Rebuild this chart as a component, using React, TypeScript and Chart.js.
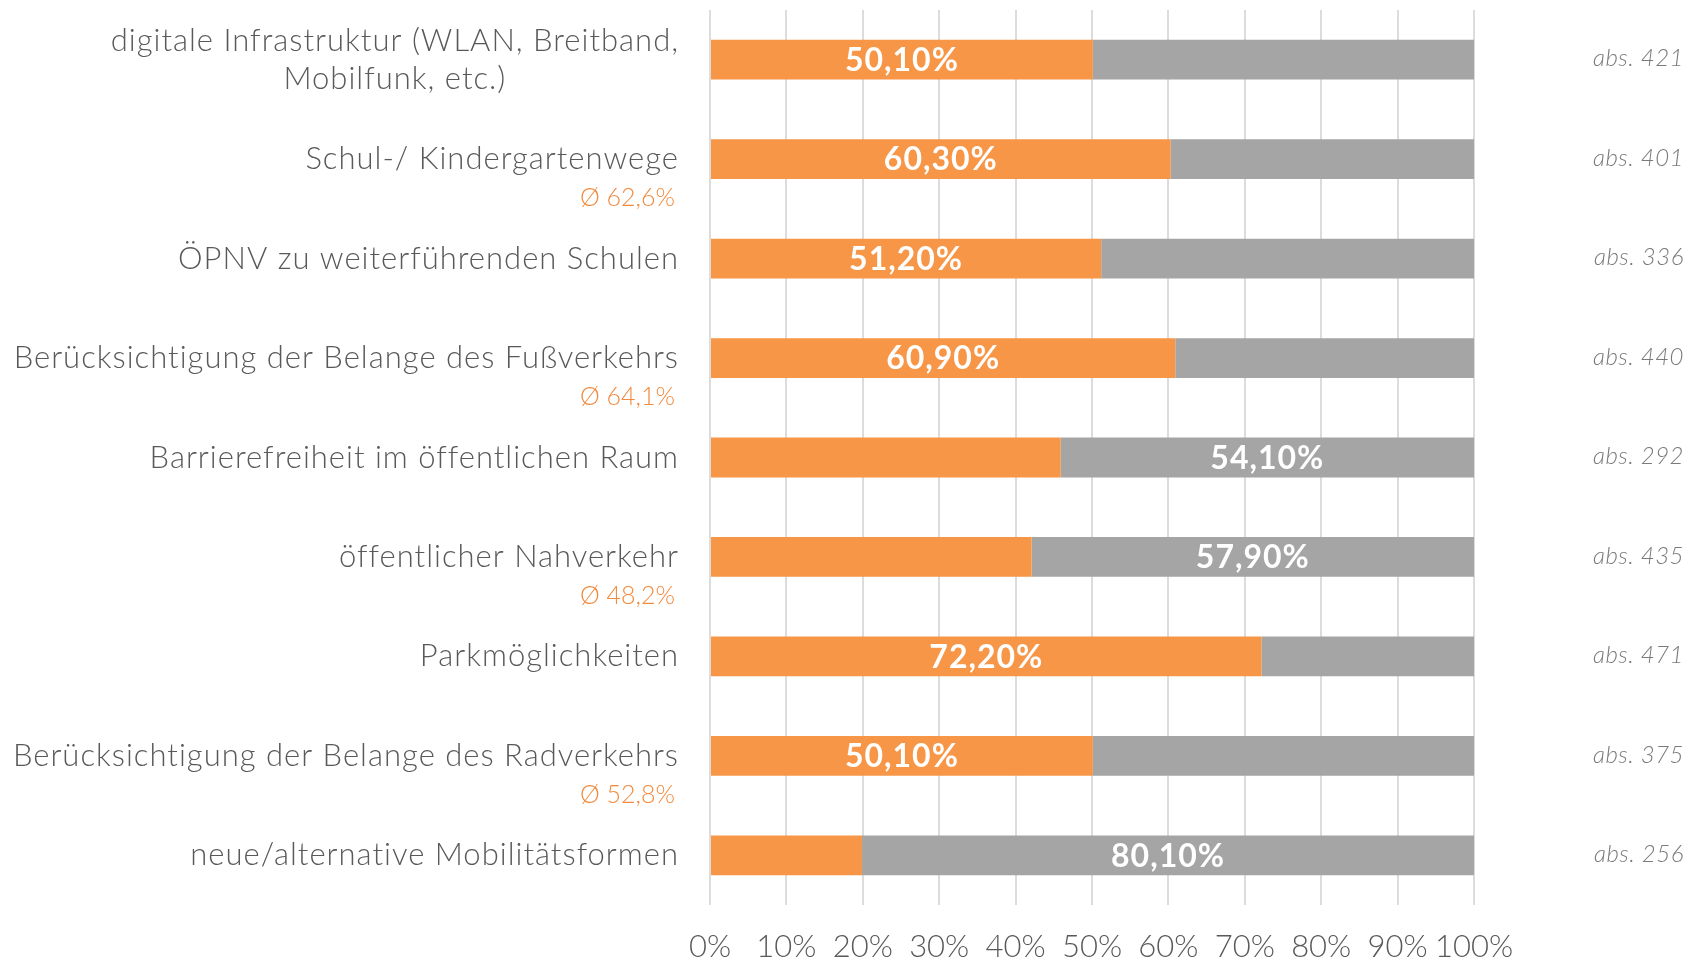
import React, { useEffect, useRef } from "react";
import { Chart, registerables } from "chart.js";

Chart.register(...registerables);

const categories: (string | string[])[] = [
  ["digitale Infrastruktur (WLAN, Breitband,", "Mobilfunk, etc.)"],
  "Schul-/ Kindergartenwege",
  "ÖPNV zu weiterführenden Schulen",
  "Berücksichtigung der Belange des Fußverkehrs",
  "Barrierefreiheit im öffentlichen Raum",
  "öffentlicher Nahverkehr",
  "Parkmöglichkeiten",
  "Berücksichtigung der Belange des Radverkehrs",
  "neue/alternative Mobilitätsformen",
];

const orangeValues = [50.1, 60.3, 51.2, 60.9, 45.9, 42.1, 72.2, 50.1, 19.9];
const grayValues = [49.9, 39.7, 48.8, 39.1, 54.1, 57.9, 27.8, 49.9, 80.1];
const absCounts = [421, 401, 336, 440, 292, 435, 471, 375, 256];
const averageLabels: (string | null)[] = [null, "62,6%", null, "64,1%", null, "48,2%", null, "52,8%", null];

const ORANGE = "#F79646";
const GRAY = "#A5A5A5";
const TEXT = "#595959";
const FONT = "Lato, 'Open Sans', sans-serif";

const fmt = (v: number) => v.toFixed(2).replace(".", ",") + "%";

const labelsPlugin = {
  id: "customLabels",
  afterDatasetsDraw(chart: any) {
    const ctx = chart.ctx;
    const m0 = chart.getDatasetMeta(0);
    const m1 = chart.getDatasetMeta(1);
    ctx.save();
    ctx.fillStyle = "#ffffff";
    ctx.font = `bold 32px ${FONT}`;
    (ctx as any).letterSpacing = "1px";
    ctx.textAlign = "center";
    ctx.textBaseline = "middle";
    for (let i = 0; i < categories.length; i++) {
      const useOrange = orangeValues[i] >= grayValues[i];
      const el = useOrange ? m0.data[i] : m1.data[i];
      const v = useOrange ? orangeValues[i] : grayValues[i];
      const cx = (el.x + el.base) / 2;
      ctx.fillText(fmt(v), cx, el.y + 1);
    }
    ctx.restore();
  },
  afterDraw(chart: any) {
    const ctx = chart.ctx;
    const yScale = chart.scales.y;
    const area = chart.chartArea;
    const rightEdge = area.left - 31;
    ctx.save();
    ctx.textBaseline = "middle";
    for (let i = 0; i < categories.length; i++) {
      const yc = yScale.getPixelForValue(i);
      const lab = categories[i];
      const lines = Array.isArray(lab) ? lab : [lab];
      ctx.font = `300 31px ${FONT}`;
      (ctx as any).letterSpacing = "1px";
      ctx.fillStyle = TEXT;
      const lh = 38;
      const maxW = Math.max(...lines.map((l) => ctx.measureText(l).width));
      ctx.textAlign = "center";
      lines.forEach((l, k) => {
        const y = yc + (k - (lines.length - 1) / 2) * lh;
        ctx.fillText(l, rightEdge - maxW / 2, y);
      });
      (ctx as any).letterSpacing = "0px";
      const avg = averageLabels[i];
      if (avg) {
        ctx.font = `300 25px ${FONT}`;
        ctx.fillStyle = "#F28A3E";
        ctx.textAlign = "right";
        ctx.fillText("Ø " + avg, rightEdge - 4, yc + 39);
      }
      ctx.font = `italic 300 24px ${FONT}`;
      (ctx as any).letterSpacing = "0.5px";
      ctx.fillStyle = "#7a7a7a";
      ctx.textAlign = "right";
      ctx.fillText("abs. " + absCounts[i], 1684, yc - 1);
      (ctx as any).letterSpacing = "0px";
    }
    ctx.restore();
  },
};

export default function App() {
  const ref = useRef<HTMLCanvasElement>(null);
  useEffect(() => {
    if (!ref.current) return;
    const chart = new Chart(ref.current, {
      type: "bar",
      data: {
        labels: categories as any,
        datasets: [
          { data: orangeValues, backgroundColor: ORANGE, barPercentage: 0.4, categoryPercentage: 1 },
          { data: grayValues, backgroundColor: GRAY, barPercentage: 0.4, categoryPercentage: 1 },
        ],
      },
      options: {
        indexAxis: "y",
        responsive: false,
        animation: false,
        layout: { padding: { left: 710, right: 222, top: 10, bottom: 0 } },
        plugins: { legend: { display: false }, tooltip: { enabled: false } },
        scales: {
          x: {
            stacked: true,
            min: 0,
            max: 100,
            border: { display: false },
            grid: { color: "#dcdcdc", lineWidth: 2, drawTicks: false },
            ticks: {
              stepSize: 10,
              padding: 23,
              color: TEXT,
              font: { family: FONT, size: 31, weight: "300" as any },
              callback: (v: any) => v + "%",
              maxRotation: 0,
              autoSkip: false,
            },
            afterFit: (s: any) => {
              s.height = 56;
            },
          },
          y: {
            stacked: true,
            display: false,
          },
        },
      },
      plugins: [labelsPlugin],
    });
    return () => chart.destroy();
  }, []);
  return (
    <div style={{ position: "absolute", left: 0, top: 0, width: 1696, height: 961, background: "#fff" }}>
      <canvas ref={ref} width={1696} height={961} />
    </div>
  );
}
